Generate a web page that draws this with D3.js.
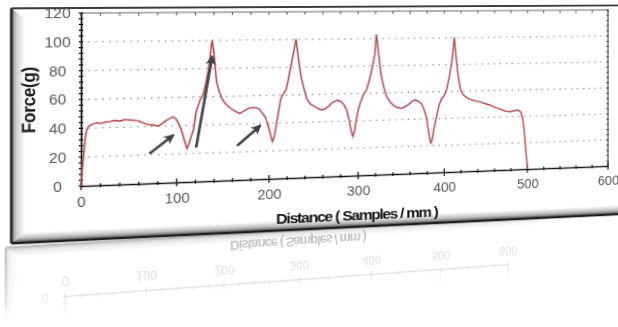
<!DOCTYPE html>
<html><head><meta charset="utf-8">
<script src="https://cdn.jsdelivr.net/npm/d3@7"></script>
<style>
html,body{margin:0;padding:0;background:#fff;overflow:hidden;width:618px;height:327px;position:relative;}
.layer{position:absolute;left:0;top:0;width:660px;height:330px;transform-origin:0 0;}
svg text{font-family:"Liberation Sans",Arial,sans-serif;}
</style></head><body>
<div id="refl" class="layer"></div>
<div id="main" class="layer"></div>
<script>
// ---------------- data ----------------
const distance = [0,1,2.5,4.5,6,8,11,16,20,25,30,35,40,45,50,55,60,65,70,75,80,84,88,92,96,99,102,105,108,111,113,116,118,121,125,128,130,132,134,136,138,140,141.5,143,146,149,152,156,161,165,168,172,176,180,185,189,192,196,199,202,204,206,208,210,213,216,219,221,224,227,230,232,234,236,239,242,246,250,255,259,263,267,271,276,280,284,287,290,292,294,296,298,300,303,306,310,313,316,319,321,323,325,327,330,333,337,341,345,349,353,357,361,365,369,373,376,379,381,383,384.5,386,388,391,394,397,400,403,406,409,412,414,416,418,420,423,427,432,437,442,448,455,462,468,474,479,484,489,492,494,495.5,497,498.5,500];
const force = [0,9,20,34,39,41.5,42.5,43.6,43,43.8,44.2,44.8,44.3,45.3,45,44.6,44,42.5,41.2,41,40,41.5,43.5,45,46.4,45,41.5,37,30,23.5,27,33,37,50,57.5,61,66,72,79,90,100,91,80,70,63,58,55,52.5,50,48.5,47.5,49,50.5,51.5,51.5,50.5,48,44.5,39,31,26.5,31,38,46,57.5,61,64,70,80,90,100,90,80,72,64,57,53,51.5,49.5,48.6,49.5,51.5,54,55.4,54.5,52,48,40,33,28.5,33,41,48,54,59,63,70,78,88,103,92,80,71,63,57,53,50.5,49,48.4,49,50.5,52.5,54.2,53.5,51.5,47.5,41.5,33,25,22,25,33,41.5,50,55,57,62,71,82,100,86,74,66,60,57,55,53.5,52.5,51.8,50.5,49,47,45.5,44,43.8,44.5,44.8,43,38,32,22,11,0];
const xTicks = [0,100,200,300,400,500,600];
const yTicks = [0,20,40,60,80,100,120];
const gridValues = [20,40,60,80,100];
const xTitle = "Distance ( Samples / mm )";
const yTitle = "Force(g)";
// annotation arrows (data units)
const arrowX1 = [72,121,166];
const arrowY1 = [21.4,24.9,25];
const arrowX2 = [96,138,190];
const arrowY2 = [33.2,88.2,38.2];

// ---------------- layout (flat space) ----------------
const W = 660, H = 330;
const P = {x0:81, x1:608, y0:13, y1:186};
const PANEL = {x0:19, y0:8, x1:650, y1:240};

function homography(src, dst){
  const A=[], b=[];
  for(let i=0;i<4;i++){
    const [x,y]=src[i], [X,Y]=dst[i];
    A.push([x,y,1,0,0,0,-x*X,-y*X]); b.push(X);
    A.push([0,0,0,x,y,1,-x*Y,-y*Y]); b.push(Y);
  }
  const n=8;
  for(let c=0;c<n;c++){
    let p=c;
    for(let r=c+1;r<n;r++) if(Math.abs(A[r][c])>Math.abs(A[p][c])) p=r;
    [A[c],A[p]]=[A[p],A[c]]; [b[c],b[p]]=[b[p],b[c]];
    for(let r=0;r<n;r++){
      if(r===c) continue;
      const f=A[r][c]/A[c][c];
      for(let k=c;k<n;k++) A[r][k]-=f*A[c][k];
      b[r]-=f*b[c];
    }
  }
  return b.map((v,i)=>v/A[i][i]);
}
function toMatrix3d(h){
  const [a,b,c,d,e,f,g,k]=h;
  return `matrix3d(${a},${d},0,${g},${b},${e},0,${k},0,0,1,0,${c},${f},0,1)`;
}

function draw(root, id, refl){
  const svg = root.append('svg').attr('width',W).attr('height',H).style('display','block').style('overflow','visible');
  const defs = svg.append('defs');
  const lb = defs.append('linearGradient').attr('id','lb'+id).attr('x1',0).attr('x2',1).attr('y1',0).attr('y2',0);
  lb.append('stop').attr('offset',0).attr('stop-color','#767676');
  lb.append('stop').attr('offset',0.35).attr('stop-color','#cdcdcd');
  lb.append('stop').attr('offset',1).attr('stop-color','#ffffff');
  const bb = defs.append('linearGradient').attr('id','bb'+id).attr('x1',0).attr('x2',0).attr('y1',0).attr('y2',1);
  bb.append('stop').attr('offset',0).attr('stop-color','#ffffff');
  bb.append('stop').attr('offset',0.55).attr('stop-color','#bdbdbd');
  bb.append('stop').attr('offset',1).attr('stop-color','#505050');
  defs.append('clipPath').attr('id','cp'+id).append('rect')
    .attr('x',PANEL.x0).attr('y',PANEL.y0).attr('width',PANEL.x1-PANEL.x0).attr('height',PANEL.y1-PANEL.y0);
  defs.append('marker').attr('id','ah'+id).attr('viewBox','0 0 10 10').attr('refX',8).attr('refY',5)
    .attr('markerWidth',3.8).attr('markerHeight',3.8).attr('orient','auto')
    .append('path').attr('d','M0,0 L10,5 L0,10 L2.5,5 Z').attr('fill','#404040');

  let g = svg.append('g');
  if(refl){
    const fg = defs.append('linearGradient').attr('id','fg'+id).attr('gradientUnits','userSpaceOnUse')
      .attr('x1',0).attr('x2',0).attr('y1',PANEL.y1).attr('y2',165);
    fg.append('stop').attr('offset',0).attr('stop-color','#fff').attr('stop-opacity',0.28);
    fg.append('stop').attr('offset',0.45).attr('stop-color','#fff').attr('stop-opacity',0.2);
    fg.append('stop').attr('offset',0.72).attr('stop-color','#fff').attr('stop-opacity',0.12);
    fg.append('stop').attr('offset',1).attr('stop-color','#fff').attr('stop-opacity',0);
    defs.append('mask').attr('id','m'+id).attr('maskUnits','userSpaceOnUse')
      .attr('x',0).attr('y',0).attr('width',W).attr('height',H)
      .append('rect').attr('width',W).attr('height',H).attr('fill','url(#fg'+id+')');
    g.attr('mask','url(#m'+id+')');
  }
  // panel
  g.append('rect').attr('x',PANEL.x0).attr('y',PANEL.y0).attr('width',PANEL.x1-PANEL.x0).attr('height',PANEL.y1-PANEL.y0).attr('fill','#fff');
  g.append('path').attr('d',`M${PANEL.x0},${PANEL.y0}L${PANEL.x0+12},${PANEL.y0+10}L${PANEL.x0+12},${PANEL.y1-10}L${PANEL.x0},${PANEL.y1}Z`).attr('fill','url(#lb'+id+')');
  g.append('path').attr('d',`M${PANEL.x0},${PANEL.y1}L${PANEL.x0+12},${PANEL.y1-10}L${PANEL.x1},${PANEL.y1-10}L${PANEL.x1},${PANEL.y1}Z`).attr('fill','url(#bb'+id+')');
  g.append('line').attr('x1',PANEL.x0).attr('x2',PANEL.x1).attr('y1',PANEL.y0).attr('y2',PANEL.y0).attr('stroke','#3a3a3a').attr('stroke-width',2);
  g.append('line').attr('x1',PANEL.x0).attr('x2',PANEL.x0).attr('y1',PANEL.y0).attr('y2',PANEL.y1).attr('stroke','#2a2a2a').attr('stroke-width',2.5);
  g.append('line').attr('x1',PANEL.x0).attr('x2',PANEL.x1).attr('y1',PANEL.y1).attr('y2',PANEL.y1).attr('stroke','#1e1e1e').attr('stroke-width',2.5);

  const c = g.append('g').attr('clip-path','url(#cp'+id+')');
  const x = d3.scaleLinear().domain([0,600]).range([P.x0,P.x1]);
  const y = d3.scaleLinear().domain([0,120]).range([P.y1,P.y0]);

  // grid
  c.append('g').selectAll('line').data(gridValues).join('line')
    .attr('x1',P.x0).attr('x2',P.x1).attr('y1',d=>y(d)).attr('y2',d=>y(d))
    .attr('stroke','#8a8a8a').attr('stroke-width',1.4).attr('stroke-dasharray','1.4 5');
  // frame top/right
  c.append('line').attr('x1',P.x0).attr('x2',P.x1).attr('y1',P.y0).attr('y2',P.y0).attr('stroke','#666').attr('stroke-width',1);
  c.append('line').attr('x1',P.x1).attr('x2',P.x1).attr('y1',P.y0).attr('y2',P.y1).attr('stroke','#555').attr('stroke-width',1.2);
  // minor ticks
  const xMinor = d3.range(0,601,20), yMinor = d3.range(0,121,4);
  c.append('g').selectAll('line').data(xMinor).join('line')
    .attr('x1',d=>x(d)).attr('x2',d=>x(d)).attr('y1',P.y0).attr('y2',P.y0+3).attr('stroke','#555');
  c.append('g').selectAll('line').data(xMinor).join('line')
    .attr('x1',d=>x(d)).attr('x2',d=>x(d)).attr('y1',d=>P.y1-(d%100===0?4:2)).attr('y2',d=>P.y1+(d%100===0?4:2)).attr('stroke','#222').attr('stroke-width',1.3);
  c.append('g').selectAll('line').data(yMinor).join('line')
    .attr('x1',P.x0-2).attr('x2',P.x0+2).attr('y1',d=>y(d)).attr('y2',d=>y(d)).attr('stroke','#222').attr('stroke-width',1.3);
  c.append('g').selectAll('line').data(yMinor).join('line')
    .attr('x1',P.x1-2).attr('x2',P.x1+1).attr('y1',d=>y(d)).attr('y2',d=>y(d)).attr('stroke','#444');

  // axes
  const ax = c.append('g').attr('transform',`translate(0,${P.y1})`)
    .call(d3.axisBottom(x).tickValues(xTicks).tickSize(0).tickPadding(11).tickFormat(d3.format('d')));
  ax.select('.domain').attr('stroke','#111').attr('stroke-width',1.6);
  ax.selectAll('text').attr('fill','#555').attr('font-size',14).attr('font-family','"Liberation Sans",Arial,sans-serif');
  const ay = c.append('g').attr('transform',`translate(${P.x0},0)`)
    .call(d3.axisLeft(y).tickValues(refl ? yTicks.slice(0,1) : yTicks).tickSize(0).tickFormat(d3.format('d')));
  ay.select('.domain').attr('stroke','#111').attr('stroke-width',1.6);
  ay.selectAll('text').attr('fill','#555').attr('font-size',14).attr('text-anchor','middle').attr('x',-21)
    .attr('font-family','"Liberation Sans",Arial,sans-serif');

  // titles
  c.append('text').attr('x',(P.x0+P.x1)/2).attr('y',233).attr('text-anchor','middle')
    .attr('font-size',15.5).attr('font-weight','bold').attr('letter-spacing',-1.2).attr('fill','#111').text(xTitle);
  if(!refl){
    c.append('text').attr('transform',`translate(40,99) rotate(-90)`).attr('text-anchor','middle')
      .attr('font-size',17).attr('font-weight','bold').attr('letter-spacing',-0.3).attr('fill','#1a1a1a').text(yTitle);
  }

  // data line
  const pts = distance.map((d,i)=>[d,force[i]]);
  const line = d3.line().x(d=>x(d[0])).y(d=>y(d[1]));
  c.append('path').datum(pts).attr('d',line).attr('fill','none').attr('stroke','#e2a4a8').attr('stroke-width',2.4).attr('stroke-opacity',0.55);
  c.append('path').datum(pts).attr('d',line).attr('fill','none').attr('stroke','#b23a42').attr('stroke-width',1.1).attr('stroke-linejoin','round');

  // arrows
  c.append('g').selectAll('line').data(arrowX1).join('line')
    .attr('x1',(d,i)=>x(arrowX1[i])).attr('y1',(d,i)=>y(arrowY1[i]))
    .attr('x2',(d,i)=>x(arrowX2[i])).attr('y2',(d,i)=>y(arrowY2[i]))
    .attr('stroke','#454545').attr('stroke-width',2.6).attr('stroke-linecap','round')
    .attr('marker-end','url(#ah'+id+')');
}

draw(d3.select('#main'),'a',false);
draw(d3.select('#refl'),'b',true);

const src = [[P.x0,P.y0],[P.x1,P.y0],[P.x0,P.y1],[P.x1,P.y1]];
const hMain = homography(src, [[81,13],[608,10],[81,186],[608,166]]);
d3.select('#main').style('transform', toMatrix3d(hMain));
const srcR = [[P.x0,186],[P.x1,186],[P.x0,228],[P.x1,228]];
const hRefl = homography(srcR, [[65,297],[508,265],[65,256],[508,228.4]]);
d3.select('#refl').style('transform', toMatrix3d(hRefl));
</script>
</body></html>
